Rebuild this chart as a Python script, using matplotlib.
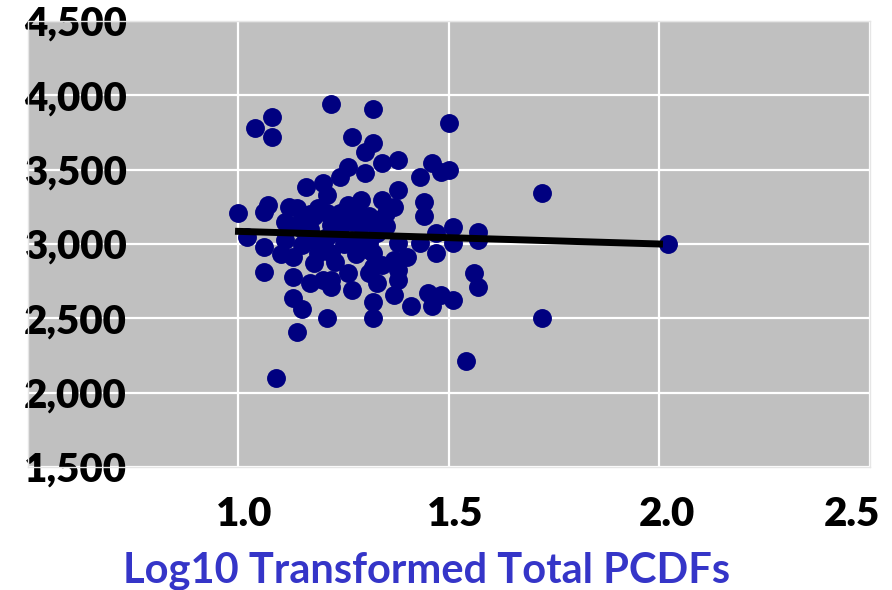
import matplotlib
matplotlib.use("Agg")
import matplotlib.pyplot as plt
import matplotlib.transforms as mtrans

# log10 total PCDFs vs outcome
pcdf_log = [1.00, 1.04, 1.08, 1.08, 1.06, 1.07, 1.02, 1.06, 1.06, 1.10,
            1.11, 1.12, 1.14, 1.13, 1.13, 1.15, 1.16, 1.16, 1.20, 1.18,
            1.19, 1.18, 1.17, 1.13, 1.15, 1.14, 1.09, 1.20, 1.21, 1.21,
            1.21, 1.19, 1.21, 1.22, 1.24, 1.22, 1.24, 1.26, 1.27, 1.22,
            1.32, 1.30, 1.32, 1.34, 1.30, 1.25, 1.26, 1.27, 1.22, 1.27,
            1.28, 1.29, 1.31, 1.29, 1.31, 1.33, 1.34, 1.32, 1.32, 1.31,
            1.33, 1.32, 1.32, 1.38, 1.38, 1.37, 1.35, 1.38, 1.37, 1.38,
            1.38, 1.40, 1.41, 1.43, 1.43, 1.44, 1.44, 1.45, 1.46, 1.47,
            1.47, 1.48, 1.46, 1.50, 1.48, 1.50, 1.51, 1.51, 1.51, 1.56,
            1.57, 1.57, 1.57, 1.54, 1.72, 1.72, 2.02, 1.34, 1.37, 1.34,
            1.11, 1.15, 1.22, 1.25, 1.28, 1.23, 1.12, 1.17, 1.15, 1.19,
            1.24, 1.26, 1.30, 1.33, 1.20, 1.28, 1.35, 1.17, 1.23, 1.31]
outcome = [3210, 3780, 3855, 3720, 3215, 3265, 3050, 2980, 2815, 2930,
           3145, 3250, 3245, 2915, 2780, 3165, 3030, 3385, 3410, 3185,
           3010, 2875, 2740, 2640, 2560, 2410, 2100, 2760, 3330, 3210,
           3050, 2940, 2505, 2940, 3210, 2710, 3450, 3520, 3720, 3940,
           3910, 3620, 3680, 3545, 3480, 3185, 2805, 2690, 2760, 3145,
           3210, 3295, 3185, 3050, 3010, 3075, 3295, 2940, 2845, 2805,
           2740, 2610, 2505, 3565, 3365, 3250, 3210, 3010, 2895, 2825,
           2760, 2915, 2580, 3010, 3450, 3285, 3185, 2670, 3545, 3075,
           2940, 2660, 2580, 3815, 3485, 3500, 3115, 3010, 2625, 2805,
           2710, 3080, 3030, 2210, 3345, 2505, 3000, 2860, 2660, 3100,
           3030, 3100, 3130, 3000, 2930, 3080, 3130, 3100, 2995, 3240,
           3110, 3260, 3150, 3160, 2980, 3020, 3120, 3200, 2880, 2960]

trend_x = [1.0, 2.0]
trend_y = [3085, 3000]

x_ticks = [1.0, 1.5, 2.0, 2.5]
y_ticks = [1500, 2000, 2500, 3000, 3500, 4000, 4500]

plt.rcParams['font.family'] = ['Lato', 'DejaVu Sans']
plt.rcParams['font.weight'] = 'bold'

fig = plt.figure(figsize=(8.92, 5.90), dpi=100)
ax = fig.add_axes([28/892, 1 - 467/590, 842/892, 446/590])
ax.set_facecolor('#c0c0c0')

ax.scatter(pcdf_log, outcome, s=185, color='#000080', linewidths=0, zorder=3)
ax.plot(trend_x, trend_y, color='black', lw=5, zorder=4)

ax.set_xlim(0.5, 2.5)
ax.set_ylim(1500, 4500)
ax.set_xticks(x_ticks)
ax.set_xticklabels(['%.1f' % t for t in x_ticks])
ax.set_yticks(y_ticks)
ax.set_yticklabels(['{:,}'.format(t) for t in y_ticks])
ax.grid(True, color='white', lw=1.6, zorder=1)
ax.set_axisbelow(True)
for s in ax.spines.values():
    s.set_color('#e6e6e6')
    s.set_linewidth(1)

ax.tick_params(axis='y', length=0, pad=-71, labelsize=29, labelcolor='black')
ax.tick_params(axis='x', length=0, pad=21, labelsize=29, labelcolor='black')
for lab in ax.get_yticklabels():
    lab.set_fontweight('heavy')
offsets = [6, 6, 7, -18]
for lab, dx in zip(ax.get_xticklabels(), offsets):
    lab.set_fontweight('heavy')
    lab.set_transform(lab.get_transform() +
                      mtrans.ScaledTranslation(dx/100, 0, fig.dpi_scale_trans))

fig.text(427/892, 7/590, 'Log10 Transformed Total PCDFs', ha='center',
         va='baseline', fontsize=30, fontweight='bold', color='#3535c8')

fig.savefig('out.png', dpi=100)
